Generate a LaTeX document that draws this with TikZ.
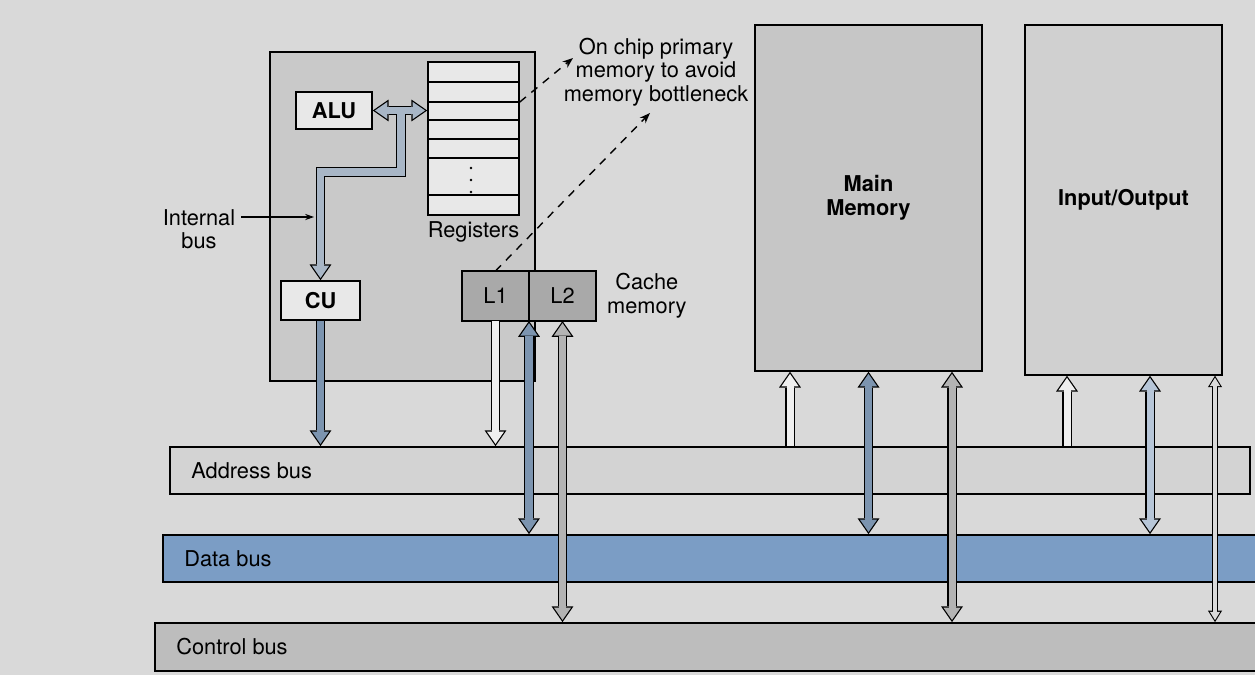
\documentclass[tikz,border=0pt]{standalone}
\usepackage{fontspec}
\setmainfont{TeX Gyre Heros}
\usetikzlibrary{arrows.meta,positioning}

\definecolor{pagegray}{HTML}{D9D9D9}
\definecolor{cpugray}{HTML}{C9C9C9}
\definecolor{unitwhite}{HTML}{E8E8E8}
\definecolor{cachegray}{HTML}{A9A9A9}
\definecolor{memgray}{HTML}{C6C6C6}
\definecolor{iogray}{HTML}{D0D0D0}
\definecolor{addrgray}{HTML}{D3D3D3}
\definecolor{databluebus}{HTML}{7B9DC5}
\definecolor{ctrlgraybus}{HTML}{BDBDBD}
\definecolor{pipeblue}{HTML}{7C94AF}
\definecolor{pipewhite}{HTML}{EFEFEF}
\definecolor{pipegray}{HTML}{B3B3B3}
\definecolor{pipelight}{HTML}{B7C6D8}
\definecolor{pipepale}{HTML}{DADADA}
\definecolor{intblue}{HTML}{A8B6C6}

\newcommand\cbfont{\fontsize{12.4}{13.4}\selectfont}

\tikzset{cbotip/.tip={Triangle[width=12.5pt,length=9pt,line width=0pt]},
         cbitip/.tip={Triangle[width=9.8pt,length=7.07pt,line width=0pt]},
         cbosmall/.tip={Triangle[width=8pt,length=6.5pt,line width=0pt]},
         cbismall/.tip={Triangle[width=5.85pt,length=4.75pt,line width=0pt]},
         cbcpu/.style={draw,fill=cpugray,line width=0.6pt,minimum width=53mm,minimum height=65.8mm},
         cbunit/.style={draw,fill=unitwhite,line width=0.9pt,font=\cbfont\bfseries},
         cbreg/.style={draw,fill=unitwhite,line width=0.9pt,minimum width=18.2mm,minimum height=30.6mm},
         cbcache/.style={draw,fill=cachegray,line width=0.9pt,outer sep=0pt,
                         minimum width=13.4mm,minimum height=10mm,font=\cbfont},
         cbbox/.style={draw,line width=0.8pt,align=center,font=\cbfont\bfseries},
         cbbus/.style={draw,line width=1pt,minimum height=9.4mm},
         cbbuslab/.style={anchor=west,xshift=3.2mm,font=\cbfont},
         cbtext/.style={align=center,font=\cbfont},
         cbpipeout/.style={line width=5.4pt,draw=black,line join=miter},
         cbpipein/.style={line width=4pt,draw=#1,line join=miter},
         cbpipe/.style={cbpipeout,-cbotip,
                        postaction={cbpipein=#1,-cbitip,shorten >=1.23pt}},
         cbpipes/.style={cbpipeout,cbotip-cbotip,
                         postaction={cbpipein=#1,cbitip-cbitip,shorten >=1.23pt,shorten <=1.23pt}},
         cbthin/.style={line width=3.5pt,draw=black,cbosmall-cbosmall,
                        postaction={draw=#1,line width=2.3pt,cbismall-cbismall,
                                    shorten >=1.15pt,shorten <=1.15pt}},
         cbnote/.style={dash pattern=on 4.5pt off 4pt,line width=0.8pt,
                        -{Stealth[length=6pt,width=4.5pt]}},
         cbpoint/.style={line width=0.6pt,-{Stealth[length=5pt,width=3.5pt]}}}

\begin{document}
\begin{tikzpicture}[x=0.2mm,y=-0.2mm]
  \fill[pagegray] (0,0) rectangle (1255,675);
  \useasboundingbox (0,0) rectangle (1255,675);
  % processor
  \node[cbcpu] (cpu) at (402.5,216.5) {};
  \node[cbunit,minimum width=15.2mm,minimum height=7.4mm] (alu) at (334,110.5) {ALU};
  \node[cbunit,minimum width=15.8mm,minimum height=7.8mm] (cu) at (320.5,300.5) {CU};
  \node[cbreg] (regs) at (473.5,138.5) {};
  \foreach \y in {82,102,120,139,158,195}
     \draw[line width=0.9pt] (regs.west |- 0,\y) -- (regs.east |- 0,\y);
  \foreach \y in {168,180,192} \fill (471,\y) circle (0.8pt);
  \node[cbtext,below=0mm of regs] (reglab) {Registers};
  % cache
  \node[cbcache] (L1) at (495.5,296) {L1};
  \node[cbcache,right=0pt of L1] (L2) {L2};
  \node[cbtext,right=1mm of L2] (cachelab) {Cache\\memory};
  % memory and I/O
  \node[cbbox,fill=memgray,minimum width=45.4mm,minimum height=69.2mm] (mem) at (868.5,198) {Main\\Memory};
  \node[cbbox,fill=iogray,minimum width=39.4mm,minimum height=70mm] (io) at (1123.5,200) {Input/Output};
  % buses
  \node[cbbus,fill=addrgray,minimum width=216mm] (addr) at (710,470.5) {};
  \node[cbbus,fill=databluebus,minimum width=219.4mm] (data) at (711.5,558.5) {};
  \node[cbbus,fill=ctrlgraybus,minimum width=221mm,minimum height=9.6mm] (ctrl) at (707.5,647) {};
  \node[cbbuslab] at (addr.west) {Address bus};
  \node[cbbuslab] at (data.west) {Data bus};
  \node[cbbuslab] at (ctrl.west) {Control bus};
  % internal bus
  \coordinate (ibT) at (alu.east -| 401,0);
  \coordinate (ibB) at (401,172);
  \draw[cbpipeout,cbotip-cbotip] (alu.east) -- (regs.west |- alu.east);
  \draw[cbpipeout,-cbotip] (ibT) -- (ibB) -- (cu.north |- ibB) -- (cu.north);
  \draw[cbpipein=intblue,-cbitip,shorten >=1.23pt] (ibT) -- (ibB) -- (cu.north |- ibB) -- (cu.north);
  \draw[cbpipein=intblue,cbitip-cbitip,shorten >=1.23pt,shorten <=1.23pt] (alu.east) -- (regs.west |- alu.east);
  \node[cbtext] (intlab) at (199,229) {Internal\\bus};
  \coordinate (ibtip) at (314,217);
  \draw[cbpoint] (intlab.east |- ibtip) -- (ibtip);
  % notes
  \node[cbtext] (note) at (656,72) {On chip primary\\memory to avoid\\memory bottleneck};
  \coordinate (n1) at (573,58);
  \coordinate (n2) at (650,113);
  \draw[cbnote] (regs.east |- 0,102) -- (n1);
  \draw[cbnote] (L1.north) -- (n2);
  % bus lines
  \draw[cbpipe=pipeblue] (cu.south) -- (cu.south |- addr.north);
  \draw[cbpipe=pipewhite] (L1.south) -- (L1.south |- addr.north);
  \draw[cbpipes=pipeblue] (L1.south east) -- (L1.south east |- data.north);
  \draw[cbpipes=pipegray] (L2.south) -- (L2.south |- ctrl.north);
  \draw[cbpipe=pipewhite] (addr.north -| 790,0) -- (mem.south -| 790,0);
  \draw[cbpipes=pipeblue] (mem.south) -- (mem.south |- data.north);
  \draw[cbpipes=pipegray] (mem.south -| 952,0) -- (ctrl.north -| 952,0);
  \draw[cbpipe=pipewhite] (addr.north -| 1067,0) -- (io.south -| 1067,0);
  \draw[cbpipes=pipelight] (io.south -| 1150,0) -- (data.north -| 1150,0);
  \draw[cbthin=pipepale] (io.south -| 1215,0) -- (ctrl.north -| 1215,0);
\end{tikzpicture}
\end{document}
